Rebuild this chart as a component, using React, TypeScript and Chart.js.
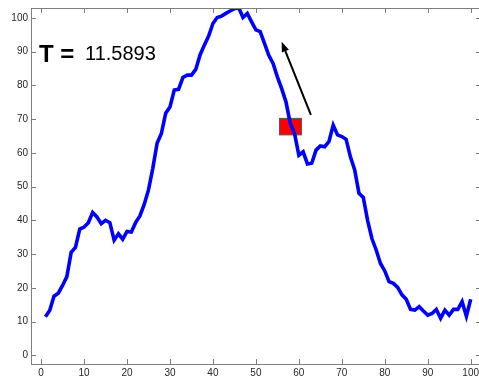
import React, { useEffect, useRef } from "react";
import { Chart, registerables } from "chart.js";

Chart.register(...registerables);

// Signal samples, one per index 1..100
const signal: number[] = [
  11.4, 13.3, 17.5, 18.4, 20.7, 23.3, 30.5, 32.0, 37.4, 38.0,
  39.3, 42.3, 41.0, 39.0, 40.0, 39.3, 34.1, 36.0, 34.4, 36.7,
  36.5, 39.3, 41.3, 44.7, 49.0, 55.4, 62.8, 65.7, 71.7, 73.6,
  78.6, 78.8, 82.3, 83.0, 83.0, 84.7, 89.0, 91.9, 94.6, 98.3,
  100.1, 100.5, 101.3, 102.0, 102.7, 103.0, 100.1, 101.3, 98.8, 96.4,
  95.9, 92.4, 88.9, 86.5, 82.5, 79.0, 75.1, 68.7, 65.7, 59.3,
  60.3, 56.7, 56.9, 60.8, 62.0, 61.8, 63.3, 68.2, 65.3, 64.8,
  64.0, 58.8, 54.9, 48.0, 46.8, 40.0, 34.6, 31.2, 27.2, 25.0,
  21.8, 21.3, 20.1, 17.9, 16.6, 13.6, 13.4, 14.4, 13.1, 11.9,
  12.4, 13.6, 11.0, 13.4, 11.9, 13.6, 13.6, 15.9, 11.6, 16.6,
];

const xTicks: number[] = [0, 10, 20, 30, 40, 50, 60, 70, 80, 90, 100];
const yTicks: number[] = [0, 10, 20, 30, 40, 50, 60, 70, 80, 90, 100];

// Current window marker (x range, y range) and direction arrow (from, to)
const markerX: [number, number] = [55.5, 60.6];
const markerY: [number, number] = [65.3, 70.2];
const arrowFrom: [number, number] = [62.8, 71.2];
const arrowTo: [number, number] = [56.0, 92.9];

const titleLabel = "T =";
const titleValue = "11.5893";

const FONT = '"Liberation Sans", Arial, Helvetica, sans-serif';
const AXIS_GREY = "#7f7f7f";

const frame = {
  id: "frame",
  beforeDatasetsDraw(chart: any) {
    const { ctx, scales } = chart;
    const xs = scales.x;
    const ys = scales.y;
    // red marker box
    const x0 = xs.getPixelForValue(markerX[0]);
    const x1 = xs.getPixelForValue(markerX[1]);
    const y0 = ys.getPixelForValue(markerY[1]);
    const y1 = ys.getPixelForValue(markerY[0]);
    ctx.save();
    ctx.fillStyle = "#ff0000";
    ctx.fillRect(x0, y0, x1 - x0, y1 - y0);
    ctx.strokeStyle = "#555555";
    ctx.lineWidth = 1;
    ctx.strokeRect(x0, y0, x1 - x0, y1 - y0);
    ctx.restore();
  },
  afterDatasetsDraw(chart: any) {
    const { ctx, scales, chartArea } = chart;
    const xs = scales.x;
    const ys = scales.y;
    const { left, right, top, bottom } = chartArea;
    ctx.save();
    // top and right edges of the box
    ctx.strokeStyle = AXIS_GREY;
    ctx.lineWidth = 1;
    ctx.beginPath();
    ctx.moveTo(left, Math.round(top) + 0.5);
    ctx.lineTo(right, Math.round(top) + 0.5);
    ctx.moveTo(Math.round(right) + 0.5, top);
    ctx.lineTo(Math.round(right) + 0.5, bottom);
    ctx.stroke();
    // inward tick marks on all four sides
    const tl = 5;
    ctx.beginPath();
    for (const v of xTicks) {
      const px = Math.round(xs.getPixelForValue(v)) + 0.5;
      ctx.moveTo(px, bottom);
      ctx.lineTo(px, bottom - tl);
      ctx.moveTo(px, top);
      ctx.lineTo(px, top + tl);
    }
    for (const v of yTicks) {
      const py = Math.round(ys.getPixelForValue(v)) + 0.5;
      ctx.moveTo(left, py);
      ctx.lineTo(left + tl, py);
      ctx.moveTo(right, py);
      ctx.lineTo(right - tl, py);
    }
    ctx.stroke();

    // arrow
    const ax0 = xs.getPixelForValue(arrowFrom[0]);
    const ay0 = ys.getPixelForValue(arrowFrom[1]);
    const ax1 = xs.getPixelForValue(arrowTo[0]);
    const ay1 = ys.getPixelForValue(arrowTo[1]);
    const ang = Math.atan2(ay1 - ay0, ax1 - ax0);
    const headLen = 10;
    const headHalf = 3.8;
    const bx = ax1 - headLen * Math.cos(ang);
    const by = ay1 - headLen * Math.sin(ang);
    ctx.strokeStyle = "#000000";
    ctx.fillStyle = "#000000";
    ctx.lineWidth = 2;
    ctx.beginPath();
    ctx.moveTo(ax0, ay0);
    ctx.lineTo(bx, by);
    ctx.stroke();
    ctx.beginPath();
    ctx.moveTo(ax1, ay1);
    ctx.lineTo(bx + headHalf * Math.sin(ang), by - headHalf * Math.cos(ang));
    ctx.lineTo(bx - headHalf * Math.sin(ang), by + headHalf * Math.cos(ang));
    ctx.closePath();
    ctx.fill();

    // annotation text
    ctx.fillStyle = "#000000";
    ctx.textBaseline = "alphabetic";
    ctx.textAlign = "left";
    ctx.font = `bold 24px ${FONT}`;
    ctx.fillText(titleLabel, 39, 61.5);
    ctx.font = `20px ${FONT}`;
    ctx.fillText(titleValue, 85, 59.5);
    ctx.restore();
  },
};

export default function App() {
  const canvasRef = useRef<HTMLCanvasElement | null>(null);

  useEffect(() => {
    document.body.style.margin = "0";
    const canvas = canvasRef.current;
    if (!canvas) return;
    const chart = new Chart(canvas, {
      type: "line",
      data: {
        datasets: [
          {
            data: signal.map((v, i) => ({ x: i + 1, y: v })),
            borderColor: "#0000ff",
            borderWidth: 3.6,
            pointRadius: 0,
            tension: 0,
            fill: false,
          },
        ],
      },
      options: {
        animation: false,
        responsive: false,
        devicePixelRatio: 1,
        layout: { padding: { left: 0, top: 8, right: 5, bottom: 0 } },
        plugins: {
          legend: { display: false },
          tooltip: { enabled: false },
        },
        scales: {
          x: {
            type: "linear",
            min: -2.35,
            max: 102.4,
            afterFit: (s: any) => {
              s.height = 16;
              s.paddingLeft = 0;
              s.paddingRight = 0;
            },
            afterBuildTicks: (s: any) => {
              s.ticks = xTicks.map((v) => ({ value: v }));
            },
            grid: { display: false, drawTicks: false },
            border: { display: true, color: AXIS_GREY, width: 1 },
            ticks: {
              autoSkip: false,
              maxRotation: 0,
              padding: 3,
              color: "#262626",
              font: { family: FONT, size: 10 },
            },
          },
          y: {
            type: "linear",
            min: -2.58,
            max: 102.9,
            afterFit: (s: any) => {
              s.width = 31;
              s.paddingTop = 0;
              s.paddingBottom = 0;
            },
            afterBuildTicks: (s: any) => {
              s.ticks = yTicks.map((v) => ({ value: v }));
            },
            grid: { display: false, drawTicks: false },
            border: { display: true, color: AXIS_GREY, width: 1 },
            ticks: {
              autoSkip: false,
              padding: 3,
              color: "#262626",
              font: { family: FONT, size: 10 },
            },
          },
        },
      },
      plugins: [frame],
    });
    return () => chart.destroy();
  }, []);

  return (
    <div style={{ width: 479, height: 380, overflow: "hidden", background: "#ffffff" }}>
      <canvas ref={canvasRef} width={486} height={380} style={{ display: "block" }} />
    </div>
  );
}
